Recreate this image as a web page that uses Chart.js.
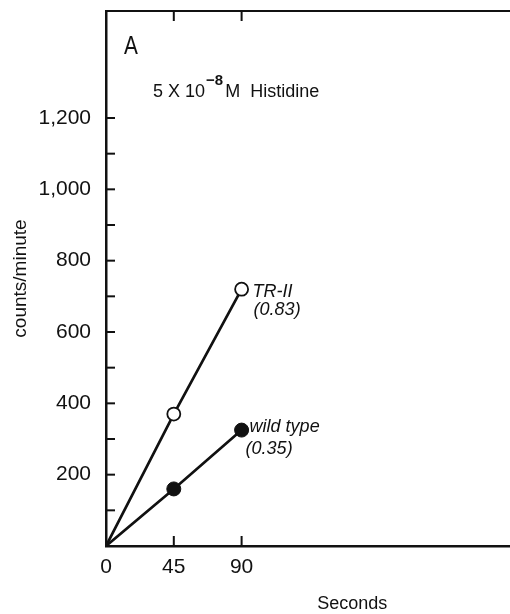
<!DOCTYPE html>
<html>
<head>
<meta charset="utf-8">
<script src="https://cdn.jsdelivr.net/npm/chart.js@4/dist/chart.umd.min.js"></script>
<style>
  html, body { margin: 0; padding: 0; background: #fff; overflow: hidden; }
</style>
</head>
<body>
<canvas id="myChart" width="607" height="614"></canvas>
<script>
"use strict"

// data
const seconds = [0, 45, 90];
const trII = [0, 370, 720];
const wildType = [0, 160, 325];
const xTicks = [0, 45, 90];
const yTicks = [100, 200, 300, 400, 500, 600, 700, 800, 900, 1000, 1100, 1200];
const yLabelled = [200, 400, 600, 800, 1000, 1200];

const ink = "#111";
const font = '"Liberation Sans", Arial, sans-serif';

const ctx = document.getElementById('myChart');

// inward tick marks, drawn from the scales
const inTicks = {
    id: 'inTicks',
    afterDraw(chart) {
        const c = chart.ctx;
        const area = chart.chartArea;
        const x = chart.scales.x;
        const y = chart.scales.y;
        c.save();
        c.strokeStyle = ink;
        c.lineWidth = 2;
        yTicks.forEach(v => {
            const py = y.getPixelForValue(v);
            c.beginPath();
            c.moveTo(area.left, py);
            c.lineTo(area.left + 9, py);
            c.stroke();
        });
        xTicks.slice(1).forEach(v => {
            const px = x.getPixelForValue(v);
            c.beginPath();
            c.moveTo(px, area.bottom);
            c.lineTo(px, area.bottom - 10);
            c.moveTo(px, area.top);
            c.lineTo(px, area.top + 10);
            c.stroke();
        });
        c.restore();
    }
}

// panel letter, condition, and series labels
const notes = {
    id: 'notes',
    afterDraw(chart) {
        const c = chart.ctx;
        const area = chart.chartArea;
        const x = chart.scales.x;
        const y = chart.scales.y;
        c.save();
        c.fillStyle = ink;
        c.textBaseline = 'alphabetic';
        c.textAlign = 'left';

        c.font = '26px ' + font;
        c.save();
        c.translate(area.left + 18, area.top + 43);
        c.scale(0.8, 1);
        c.fillText('A', 0, 0);
        c.restore();

        let tx = area.left + 47;
        const by = area.top + 86;
        c.font = '18px ' + font;
        c.fillText('5 X 10', tx, by);
        tx += c.measureText('5 X 10').width + 1;
        c.font = 'bold 15px ' + font;
        c.fillText('\u22128', tx, by - 12);
        tx += c.measureText('\u22128').width + 2;
        c.font = '18px ' + font;
        c.fillText('M  Histidine', tx, by);

        c.font = 'italic 18px ' + font;
        const p1x = x.getPixelForValue(seconds[2]);
        const p1y = y.getPixelForValue(trII[2]);
        c.fillText('TR-II', p1x + 11, p1y + 8);
        c.fillText('(0.83)', p1x + 12, p1y + 26);

        const p2x = x.getPixelForValue(seconds[2]);
        const p2y = y.getPixelForValue(wildType[2]);
        c.fillText('wild type', p2x + 8, p2y + 2);
        c.fillText('(0.35)', p2x + 4, p2y + 24);
        c.restore();
    }
}

new Chart(ctx, {
    type: 'line',
    data: {
        datasets: [{
            label: 'TR-II',
            data: seconds.map((s, i) => ({x: s, y: trII[i]})),
            borderColor: ink,
            borderWidth: 2.7,
            pointRadius: [0, 6.5, 6.5],
            pointBackgroundColor: '#fff',
            pointBorderColor: ink,
            pointBorderWidth: 1.8,
        }, {
            label: 'wild type',
            data: seconds.map((s, i) => ({x: s, y: wildType[i]})),
            borderColor: ink,
            borderWidth: 2.7,
            pointRadius: [0, 7, 7],
            pointBackgroundColor: ink,
            pointBorderColor: ink,
            pointBorderWidth: 1,
        }]
    },
    options: {
        responsive: false,
        animation: false,
        layout: { padding: { top: 11, right: 0, left: 0, bottom: 0 } },
        plugins: {
            legend: { display: false },
            tooltip: { enabled: false },
        },
        scales: {
            x: {
                type: 'linear',
                min: 0,
                max: 327,
                afterBuildTicks: s => { s.ticks = xTicks.map(v => ({value: v})) },
                afterFit: s => { s.height = 68; s.paddingLeft = 0; s.paddingRight = 0 },
                grid: { display: false, drawTicks: false },
                border: { color: ink, width: 2.5 },
                ticks: {
                    padding: 9,
                    color: ink,
                    font: { family: font, size: 21 },
                    maxRotation: 0,
                },
                title: {
                    display: true,
                    text: 'Seconds',
                    color: ink,
                    font: { family: font, size: 18 },
                    padding: { top: 0, bottom: -1 },
                },
            },
            x2: {
                type: 'linear',
                position: 'top',
                min: 0,
                max: 327,
                afterFit: s => { s.height = 0; s.paddingLeft = 0; s.paddingRight = 0 },
                grid: { display: false, drawTicks: false },
                border: { color: ink, width: 2 },
                ticks: { display: false },
            },
            y: {
                min: 0,
                max: 1500,
                afterBuildTicks: s => { s.ticks = yTicks.map(v => ({value: v})) },
                afterFit: s => { s.width = 106; s.paddingTop = 0; s.paddingBottom = 0 },
                grid: { display: false, drawTicks: false },
                border: { color: ink, width: 2.5 },
                ticks: {
                    padding: 15,
                    color: ink,
                    font: { family: font, size: 21 },
                    callback: v => yLabelled.includes(v) ? v.toLocaleString('en-US') : '',
                },
                title: {
                    display: true,
                    text: 'counts/minute',
                    color: ink,
                    font: { family: font, size: 19 },
                    padding: { top: 9, bottom: 0 },
                },
            },
        },
    },
    plugins: [inTicks, notes],
})
</script>
</body>
</html>
